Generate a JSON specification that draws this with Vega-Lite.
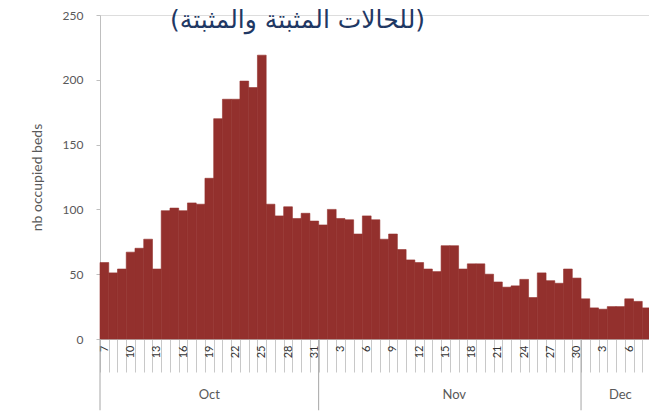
{
  "$schema": "https://vega.github.io/schema/vega-lite/v6.json",
  "width": 551,
  "height": 324,
  "autosize": "none",
  "padding": {"left": 100, "top": 15, "right": 0, "bottom": 74},
  "background": "white",
  "title": {
    "text": "(للحالات المثبتة والمثبتة)",
    "font": "DejaVu Sans",
    "fontSize": 25,
    "fontWeight": "normal",
    "color": "#1f3864",
    "anchor": "middle",
    "frame": "group",
    "dx": -78,
    "offset": -24
  },
  "datasets": {
    "beds": [
      {"date": "2020-10-07", "beds": 59}, {"date": "2020-10-08", "beds": 51}, {"date": "2020-10-09", "beds": 54},
      {"date": "2020-10-10", "beds": 67}, {"date": "2020-10-11", "beds": 70}, {"date": "2020-10-12", "beds": 77},
      {"date": "2020-10-13", "beds": 54}, {"date": "2020-10-14", "beds": 99}, {"date": "2020-10-15", "beds": 101},
      {"date": "2020-10-16", "beds": 99}, {"date": "2020-10-17", "beds": 105}, {"date": "2020-10-18", "beds": 104},
      {"date": "2020-10-19", "beds": 124}, {"date": "2020-10-20", "beds": 170}, {"date": "2020-10-21", "beds": 185},
      {"date": "2020-10-22", "beds": 185}, {"date": "2020-10-23", "beds": 199}, {"date": "2020-10-24", "beds": 194},
      {"date": "2020-10-25", "beds": 219}, {"date": "2020-10-26", "beds": 104}, {"date": "2020-10-27", "beds": 95},
      {"date": "2020-10-28", "beds": 102}, {"date": "2020-10-29", "beds": 93}, {"date": "2020-10-30", "beds": 97},
      {"date": "2020-10-31", "beds": 91}, {"date": "2020-11-01", "beds": 88}, {"date": "2020-11-02", "beds": 100},
      {"date": "2020-11-03", "beds": 93}, {"date": "2020-11-04", "beds": 92}, {"date": "2020-11-05", "beds": 81},
      {"date": "2020-11-06", "beds": 95}, {"date": "2020-11-07", "beds": 92}, {"date": "2020-11-08", "beds": 77},
      {"date": "2020-11-09", "beds": 81}, {"date": "2020-11-10", "beds": 69}, {"date": "2020-11-11", "beds": 61},
      {"date": "2020-11-12", "beds": 59}, {"date": "2020-11-13", "beds": 54}, {"date": "2020-11-14", "beds": 52},
      {"date": "2020-11-15", "beds": 72}, {"date": "2020-11-16", "beds": 72}, {"date": "2020-11-17", "beds": 54},
      {"date": "2020-11-18", "beds": 58}, {"date": "2020-11-19", "beds": 58}, {"date": "2020-11-20", "beds": 50},
      {"date": "2020-11-21", "beds": 44}, {"date": "2020-11-22", "beds": 40}, {"date": "2020-11-23", "beds": 41},
      {"date": "2020-11-24", "beds": 46}, {"date": "2020-11-25", "beds": 32}, {"date": "2020-11-26", "beds": 51},
      {"date": "2020-11-27", "beds": 45}, {"date": "2020-11-28", "beds": 43}, {"date": "2020-11-29", "beds": 54},
      {"date": "2020-11-30", "beds": 47}, {"date": "2020-12-01", "beds": 31}, {"date": "2020-12-02", "beds": 24},
      {"date": "2020-12-03", "beds": 23}, {"date": "2020-12-04", "beds": 25}, {"date": "2020-12-05", "beds": 25},
      {"date": "2020-12-06", "beds": 31}, {"date": "2020-12-07", "beds": 29}, {"date": "2020-12-08", "beds": 24}
    ],
    "months": [
      {"month": "Oct", "start": "2020-10-07", "mid": "2020-10-19"},
      {"month": "Nov", "start": "2020-11-01", "mid": "2020-11-16"},
      {"month": "Dec", "start": "2020-12-01", "mid": "2020-12-05"}
    ]
  },
  "layer": [
    {
      "data": {"name": "beds"},
      "mark": {"type": "bar", "color": "#93302d", "stroke": "#93302d", "strokeWidth": 0.6},
      "encoding": {
        "x": {
          "field": "date",
          "type": "ordinal",
          "scale": {"paddingInner": 0, "paddingOuter": 0},
          "axis": {
            "title": null,
            "labelAngle": -90,
            "labelExpr": "round((toDate(datum.value) - utc(2020,9,7)) / 86400000) % 3 == 0 ? '' + utcdate(toDate(datum.value)) : ''",
            "labelOverlap": false,
            "labelFont": "Lato",
            "labelFontSize": 11,
            "labelColor": "#333333",
            "labelPadding": -27,
            "tickBand": "extent",
            "tickSize": 33,
            "tickColor": "#c8c8c8",
            "domainColor": "#bfbfbf"
          }
        },
        "y": {
          "field": "beds",
          "type": "quantitative",
          "scale": {"domain": [0, 250], "nice": false},
          "axis": {
            "values": [0, 50, 100, 150, 200, 250],
            "title": "nb occupied beds",
            "grid": false,
            "tickSize": 4,
            "labelPadding": 13,
            "domainColor": "#bfbfbf",
            "tickColor": "#bfbfbf",
            "labelColor": "#595959",
            "labelFont": "Lato",
            "labelFontSize": 12,
            "titleFont": "Lato",
            "titleFontSize": 14,
            "titleFontWeight": "normal",
            "titleColor": "#595959",
            "titlePadding": 18
          }
        }
      }
    },
    {
      "data": {"name": "months"},
      "mark": {"type": "rule", "color": "#a6a6a6", "strokeWidth": 1},
      "encoding": {
        "x": {"field": "start", "type": "ordinal", "bandPosition": 0},
        "y": {"datum": 0},
        "y2": {"datum": -55}
      }
    },
    {
      "data": {"name": "months"},
      "mark": {"type": "text", "font": "Lato", "fontSize": 13, "color": "#595959", "baseline": "middle", "align": "center"},
      "encoding": {
        "x": {"field": "mid", "type": "ordinal", "bandPosition": 0.5},
        "y": {"datum": -43},
        "text": {"field": "month"}
      }
    }
  ]
}
